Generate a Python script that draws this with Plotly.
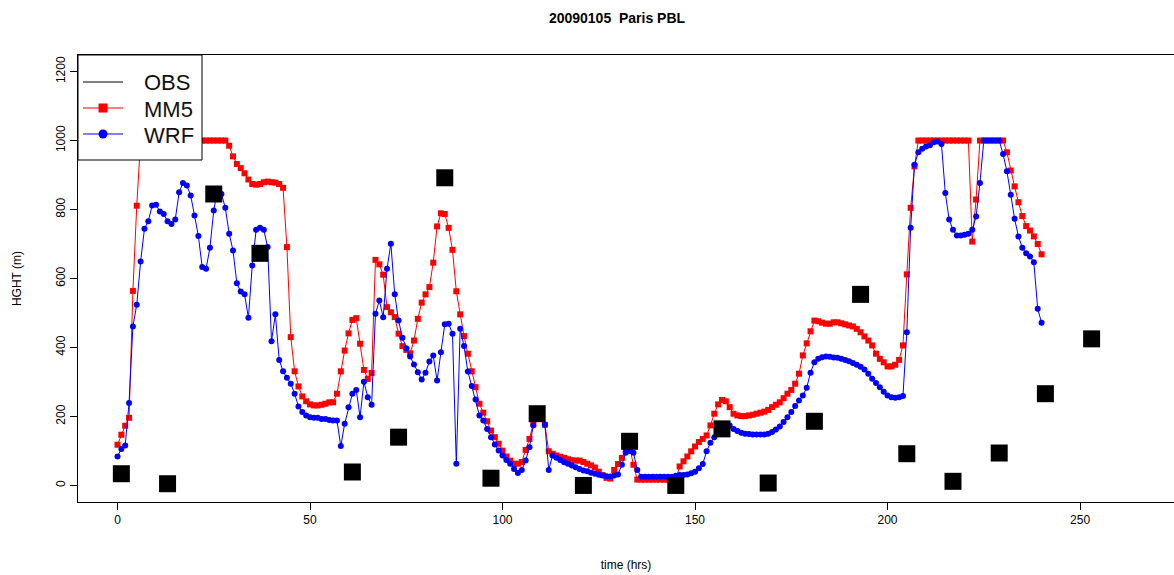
import plotly.graph_objects as go

# ---------------- data ----------------
hours = list(range(0, 241))

mm5 = ([118, 147, 173, 196, 564, 811]
       + [1000] * 23
       + [985, 954, 932, 920, 905, 887, 874, 872, 874, 879, 881, 879, 878, 874, 863]
       + [691, 430, 331, 287]
       + [258, 244, 235, 232, 232, 234, 237, 241, 241, 266, 331, 391, 441, 480, 485, 411,
          335, 309, 326, 654, 641, 611, 517, 502, 488, 440, 404, 393, 383, 420, 483, 530,
          554, 575, 646, 751, 789, 787, 747, 683, 563, 496, 433, 382, 331, 285, 237, 211]
       + [186, 159, 140, 121, 101, 84, 72, 63, 63, 68, 103, 135, 179, 200, 200, 176]
       + [99, 92, 87, 83, 80, 76, 73, 72, 72, 68, 63, 58, 52, 40, 30, 22, 20, 45, 62, 80,
          105, 112, 60, 17]
       + [17] * 10
       + [55, 70, 84, 99, 113, 126, 135, 145, 174, 208,
          235, 248, 244, 227, 208, 203, 201, 201, 203, 205,
          208, 211, 214, 219, 227, 234, 241, 253, 266, 277,
          295, 324, 377, 412, 447, 478, 476, 472, 469, 469,
          473, 473, 470, 467, 464, 461, 454, 444, 432, 420, 406]
       + [382, 367, 357, 345, 345, 350, 364, 406, 612, 805, 925]
       + [1000] * 14
       + [707, 829]
       + [1000] * 7
       + [966, 913, 867, 821, 781, 752, 739, 722, 700, 670])

wrf = ([84, 106, 116, 239, 461, 524, 649, 744, 766, 812, 814, 794, 787, 766, 758, 771,
        850, 877, 870, 841, 783, 723, 633, 628, 689, 797, 860, 845, 805, 730, 681, 586,
        562, 554, 486, 638, 741, 747, 741, 691, 418, 496, 364, 331, 312, 295, 266, 229]
       + [213, 203, 198, 196, 196, 193, 193, 190, 188, 188, 114, 179, 227, 266, 277, 198,
          301, 256, 234, 498, 536, 488, 628, 701, 554, 478, 428, 398, 374, 351, 328, 307,
          327, 359, 377, 304, 386, 467, 469, 440, 63, 454, 404, 330, 288, 249, 203, 188]
       + [164, 140, 119, 101, 87, 74, 63, 48, 36, 45, 72, 111, 174, 195, 195, 176]
       + [45, 87, 80, 74, 67, 63, 58, 53, 48, 43, 41, 37, 34, 31, 29, 27, 26, 29, 32, 60,
          95, 100, 95, 45]
       + [25] * 9
       + [28, 30, 30, 32, 35, 40, 50, 62, 99, 124,
          140, 155, 174, 177, 174, 164, 158, 153, 150, 149,
          148, 148, 148, 148, 150, 155, 162, 171, 184, 198,
          213, 230, 246, 261, 283, 327, 357, 367, 372, 374,
          373, 371, 370, 367, 364, 360, 355, 350, 344, 336, 324, 309]
       + [297, 285, 272, 261, 256, 254, 256, 259, 444, 747, 930]
       + [966, 976, 983, 986, 995, 997, 990]
       + [848, 771, 741, 725, 725, 727, 730, 741, 780, 877]
       + [1000] * 5
       + [961, 911, 843, 773, 722, 689, 673, 664, 647, 512, 472])

obs_hours = [1, 13, 25, 37, 61, 73, 85, 97, 109, 121, 133, 145, 157, 169, 181, 193,
             205, 217, 229, 241, 253]
obs = [34, 5, 845, 673, 39, 140, 892, 21, 208, 0, 128, 0, 164, 7, 186, 554,
       92, 12, 94, 266, 425]

x_ticks = [0, 50, 100, 150, 200, 250]
y_ticks = [0, 200, 400, 600, 800, 1000, 1200]

legend_names = ["OBS", "MM5", "WRF"]
legend_colors = ["#000000", "#ff0000", "#0000ff"]
legend_symbols = [None, "square", "circle"]

FONT = "Liberation Sans, Arial, sans-serif"

# figure geometry (pixels)
W, H = 1174, 575
ML, MR, MT, MB = 78, 0, 55, 73
PW, PH = W - ML - MR, H - MT - MB


def px(xp):
    return (xp - ML) / PW


def py(yp):
    return (H - MB - yp) / PH


fig = go.Figure()

fig.add_trace(go.Scatter(
    x=hours, y=mm5, mode="lines+markers", name="MM5",
    line=dict(color="#ff0000", width=1),
    marker=dict(symbol="square", size=6, color="#ff0000"),
))
fig.add_trace(go.Scatter(
    x=hours, y=wrf, mode="lines+markers", name="WRF",
    line=dict(color="#0000ff", width=1),
    marker=dict(symbol="circle", size=6, color="#0000ff"),
))
fig.add_trace(go.Scatter(
    x=obs_hours, y=obs, mode="markers", name="OBS",
    marker=dict(symbol="square", size=17, color="#000000"),
))

# ---- legend box drawn like the R legend ----
shapes = [dict(type="rect", xref="paper", yref="paper", x0=px(78), x1=px(202),
               y0=py(160), y1=py(55), fillcolor="white",
               line=dict(color="black", width=1), layer="above")]
annotations = []
rows = [82, 108, 134]
for name, col, sym, yr in zip(legend_names, legend_colors, legend_symbols, rows):
    shapes.append(dict(type="line", xref="paper", yref="paper", x0=px(83), x1=px(123),
                       y0=py(yr), y1=py(yr), line=dict(color=col, width=1), layer="above"))
    if sym is not None:
        shapes.append(dict(type="rect" if sym == "square" else "circle",
                           xref="paper", yref="paper",
                           x0=px(103 - 4.5), x1=px(103 + 4.5),
                           y0=py(yr + 4.5), y1=py(yr - 4.5),
                           fillcolor=col, line=dict(color=col, width=0), layer="above"))
    annotations.append(dict(text=name, xref="paper", yref="paper", x=px(142), y=py(yr + 1),
                            xanchor="left", yanchor="middle", showarrow=False,
                            font=dict(size=22, family=FONT, color="#111111")))

fig.update_layout(
    width=W, height=H,
    margin=dict(l=ML, r=MR, t=MT, b=MB),
    paper_bgcolor="white", plot_bgcolor="white",
    font=dict(family=FONT, color="black"),
    title=dict(text="<b>20090105\u00a0\u00a0Paris PBL</b>", x=617 / W, xref="container",
               xanchor="center", y=1 - 18 / H, yref="container", yanchor="middle",
               font=dict(size=14, family=FONT, color="black")),
    showlegend=False,
    shapes=shapes,
    annotations=annotations,
)

fig.update_xaxes(
    range=[-10.26, 274.4], tickvals=x_ticks, ticktext=[str(v) for v in x_ticks],
    showgrid=False, zeroline=False, showline=True, linecolor="black", linewidth=1,
    mirror=True, ticks="outside", ticklen=7, tickcolor="black",
    tickfont=dict(size=12, family=FONT, color="black"),
    title=dict(text="time (hrs)", font=dict(size=12, family=FONT, color="black"), standoff=34),
)
fig.update_yaxes(
    range=[-48, 1248], tickvals=y_ticks, ticktext=[str(v) for v in y_ticks],
    showgrid=False, zeroline=False, showline=True, linecolor="black", linewidth=1,
    mirror=False, ticks="outside", ticklen=7, tickcolor="black", tickangle=-90,
    tickfont=dict(size=12, family=FONT, color="black"),
    title=dict(text="HGHT (m)", font=dict(size=12, family=FONT, color="black"), standoff=30),
)

fig.write_html("out.html")
